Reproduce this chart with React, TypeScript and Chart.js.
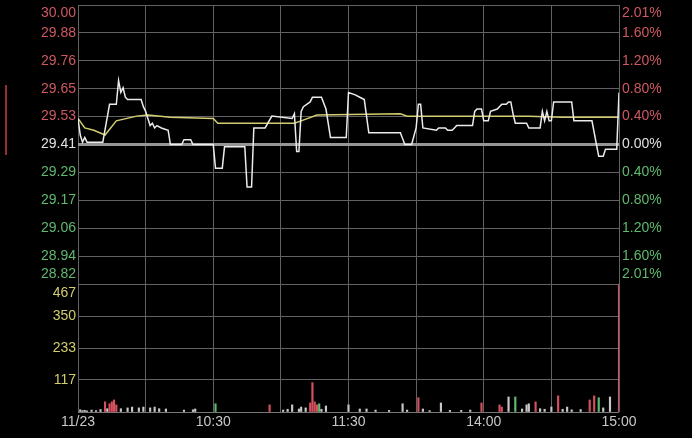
import { useEffect, useRef } from 'react';
import { Chart, registerables } from 'chart.js';

Chart.register(...registerables);

// ---------- data ----------
const prevClose = 29.41;

const priceTickValues = [30.0, 29.882, 29.764, 29.646, 29.528, 29.41, 29.292, 29.174, 29.056, 28.938, 28.82];
const priceTickLabels = ['30.00', '29.88', '29.76', '29.65', '29.53', '29.41', '29.29', '29.17', '29.06', '28.94', '28.82'];
const pctTickLabels = ['2.01%', '1.60%', '1.20%', '0.80%', '0.40%', '0.00%', '0.40%', '0.80%', '1.20%', '1.60%', '2.01%'];

const volTickValues = [0, 117, 233, 350, 467];
const volTickLabels = ['', '117', '233', '350', '467'];

const gridMinutes = [0, 30, 60, 90, 120, 150, 180, 210, 240];
const timeLabelMinutes = [0, 60, 120, 180, 240];
const timeLabels = ['11/23', '10:30', '11:30', '14:00', '15:00'];

const priceMinutes = [0, 1, 2, 3, 4, 11, 14, 17, 18, 19, 20, 21, 22, 28, 29, 30, 31, 32, 33, 34, 35, 37, 40, 41, 46, 47, 50, 51, 60, 61, 64, 65, 74, 75, 77, 78, 83, 86, 95, 96, 97, 98, 99, 100, 103, 104, 108, 110, 112, 119, 120, 123, 125, 127, 129, 143, 145, 148, 150, 151, 152, 153, 159, 160, 163, 164, 166, 167, 168, 175, 176, 177, 179, 180, 182, 183, 186, 188, 190, 191, 192, 193, 194, 199, 200, 205, 206, 207, 208, 209, 210, 211, 219, 220, 228, 230, 231, 233, 234, 239, 240];
const priceValues = [29.52, 29.45, 29.42, 29.44, 29.42, 29.42, 29.58, 29.58, 29.68, 29.63, 29.65, 29.61, 29.6, 29.6, 29.57, 29.55, 29.52, 29.49, 29.5, 29.48, 29.49, 29.48, 29.47, 29.41, 29.41, 29.43, 29.43, 29.41, 29.41, 29.31, 29.31, 29.4, 29.4, 29.23, 29.23, 29.48, 29.48, 29.53, 29.52, 29.54, 29.38, 29.38, 29.55, 29.57, 29.59, 29.61, 29.61, 29.56, 29.44, 29.44, 29.63, 29.62, 29.61, 29.6, 29.46, 29.46, 29.41, 29.41, 29.48, 29.58, 29.58, 29.48, 29.47, 29.48, 29.48, 29.47, 29.47, 29.48, 29.49, 29.49, 29.55, 29.56, 29.56, 29.51, 29.51, 29.55, 29.56, 29.58, 29.58, 29.59, 29.59, 29.54, 29.5, 29.5, 29.48, 29.48, 29.55, 29.51, 29.55, 29.51, 29.51, 29.59, 29.59, 29.51, 29.51, 29.41, 29.36, 29.36, 29.39, 29.39, 29.63];

const avgMinutes = [0, 3, 7, 12, 17, 26, 31, 41, 60, 62, 96, 99, 106, 143, 146, 200, 215, 240];
const avgValues = [29.52, 29.48, 29.47, 29.45, 29.51, 29.53, 29.535, 29.525, 29.52, 29.5, 29.5, 29.51, 29.535, 29.54, 29.53, 29.53, 29.525, 29.525];

const volMinutes = [1, 2, 3, 4, 6, 8, 10, 12, 13, 14, 15, 16, 17, 19, 22, 24, 27, 29, 32, 34, 36, 39, 47, 51, 52, 61, 85, 91, 93, 95, 98, 99, 101, 103, 104, 105, 106, 107, 108, 110, 120, 125, 128, 132, 138, 144, 146, 151, 153, 156, 161, 165, 170, 174, 179, 187, 188, 191, 194, 197, 199, 200, 203, 205, 207, 210, 213, 215, 217, 219, 223, 227, 229, 231, 233, 236, 240];
const volValues = [8, 5, 6, 4, 7, 5, 9, 37, 12, 30, 37, 44, 26, 12, 15, 18, 15, 18, 15, 18, 12, 11, 7, 8, 11, 30, 26, 7, 10, 26, 11, 18, 15, 33, 107, 37, 26, 30, 10, 22, 26, 11, 11, 7, 6, 30, 7, 52, 11, 5, 33, 6, 6, 7, 33, 26, 18, 55, 55, 11, 26, 30, 37, 12, 10, 18, 59, 10, 18, 8, 9, 44, 59, 52, 15, 55, 467];
const volDir = ['f', 'f', 'f', 'f', 'f', 'f', 'f', 'u', 'f', 'u', 'u', 'u', 'u', 'f', 'f', 'f', 'f', 'f', 'f', 'f', 'f', 'f', 'f', 'f', 'f', 'd', 'u', 'f', 'f', 'f', 'f', 'f', 'f', 'u', 'u', 'u', 'u', 'd', 'f', 'f', 'f', 'f', 'f', 'f', 'f', 'f', 'f', 'u', 'f', 'f', 'f', 'f', 'f', 'f', 'u', 'u', 'u', 'f', 'd', 'f', 'f', 'f', 'u', 'f', 'f', 'f', 'u', 'f', 'f', 'f', 'f', 'u', 'u', 'd', 'f', 'f', 'u'];

// ---------- styles ----------
const RED = 'rgb(205,88,98)';
const GREEN = 'rgb(95,185,110)';
const WHITE = 'rgb(225,225,225)';
const YELLOW = 'rgb(210,205,110)';
const GRID = 'rgb(98,98,98)';
const BASE = 'rgb(150,150,150)';
const FONT = '14px "Liberation Sans", Arial, sans-serif';
const dirColor: Record<string, string> = { u: 'rgb(215,80,95)', d: 'rgb(90,190,110)', f: 'rgb(200,200,200)' };

const W = 692;
const H = 438;

export default function App() {
  const priceRef = useRef<HTMLCanvasElement>(null);
  const volRef = useRef<HTMLCanvasElement>(null);

  useEffect(() => {
    document.body.style.margin = '0';
    document.body.style.background = '#000';

    const xScale = {
      type: 'linear' as const,
      min: 0,
      max: 240,
      offset: false,
      afterBuildTicks: (s: any) => {
        s.ticks = gridMinutes.map((v) => ({ value: v }));
      },
      ticks: { display: false },
      grid: { color: GRID, lineWidth: 1, drawTicks: false, offset: false },
      border: { display: false },
    };

    const priceLabels = {
      id: 'priceLabels',
      afterDraw(chart: any) {
        const { ctx, chartArea, scales } = chart;
        ctx.save();
        ctx.font = FONT;
        ctx.textBaseline = 'middle';
        priceTickValues.forEach((v, i) => {
          let y = scales.y.getPixelForValue(v);
          y = Math.min(Math.max(y, chartArea.top + 8), chartArea.bottom - 10);
          const diff = v - prevClose;
          ctx.fillStyle = diff > 1e-6 ? RED : diff < -1e-6 ? GREEN : WHITE;
          ctx.textAlign = 'right';
          ctx.fillText(priceTickLabels[i], chartArea.left - 2, y);
          ctx.textAlign = 'left';
          ctx.fillText(pctTickLabels[i], chartArea.right + 3, y);
        });
        ctx.restore();
      },
    };

    const volLabels = {
      id: 'volLabels',
      afterDraw(chart: any) {
        const { ctx, chartArea, scales } = chart;
        ctx.save();
        ctx.font = FONT;
        ctx.textBaseline = 'middle';
        ctx.fillStyle = YELLOW;
        ctx.textAlign = 'right';
        volTickValues.forEach((v, i) => {
          if (!volTickLabels[i]) return;
          let y = scales.y.getPixelForValue(v);
          y = Math.max(y, chartArea.top + 9);
          ctx.fillText(volTickLabels[i], chartArea.left - 2, y);
        });
        ctx.fillStyle = 'rgb(200,200,200)';
        ctx.textAlign = 'center';
        timeLabelMinutes.forEach((m, i) => {
          ctx.fillText(timeLabels[i], scales.x.getPixelForValue(m), chartArea.bottom + 10);
        });
        ctx.restore();
      },
    };

    const priceChart = new Chart(priceRef.current!, {
      type: 'line',
      data: {
        datasets: [
          {
            data: priceMinutes.map((m, i) => ({ x: m, y: priceValues[i] })),
            borderColor: 'rgb(235,235,235)',
            borderWidth: 1.5,
            pointRadius: 0,
            tension: 0,
          },
          {
            data: avgMinutes.map((m, i) => ({ x: m, y: avgValues[i] })),
            borderColor: YELLOW,
            borderWidth: 1.5,
            pointRadius: 0,
            tension: 0,
          },
        ],
      },
      options: {
        responsive: false,
        animation: false,
        events: [],
        layout: { padding: { left: 78, right: 73, top: 5, bottom: 6 } },
        plugins: { legend: { display: false }, tooltip: { enabled: false } },
        scales: {
          x: xScale as any,
          y: {
            type: 'linear',
            min: 28.82,
            max: 30.0,
            afterBuildTicks: (s: any) => {
              s.ticks = priceTickValues.map((v) => ({ value: v }));
            },
            ticks: { display: false },
            grid: {
              drawTicks: false,
              color: (c: any) => (c.tick && Math.abs(c.tick.value - prevClose) < 1e-6 ? BASE : GRID),
              lineWidth: (c: any) => (c.tick && Math.abs(c.tick.value - prevClose) < 1e-6 ? 3 : 1),
            },
            border: { display: false },
          },
        },
      },
      plugins: [priceLabels],
    });

    const volChart = new Chart(volRef.current!, {
      type: 'bar',
      data: {
        datasets: [
          {
            data: volMinutes.map((m, i) => ({ x: m, y: volValues[i] })) as any,
            backgroundColor: volDir.map((d) => dirColor[d]),
            borderWidth: 0,
            barThickness: 1.5,
          },
        ],
      },
      options: {
        responsive: false,
        animation: false,
        events: [],
        layout: { padding: { left: 78, right: 73, top: 4, bottom: 26 } },
        plugins: { legend: { display: false }, tooltip: { enabled: false } },
        scales: {
          x: xScale as any,
          y: {
            type: 'linear',
            min: 0,
            max: 467,
            afterBuildTicks: (s: any) => {
              s.ticks = volTickValues.map((v) => ({ value: v }));
            },
            ticks: { display: false },
            grid: { drawTicks: false, color: (c: any) => (c.tick && c.tick.value === 0 ? 'rgb(120,120,120)' : GRID), lineWidth: 1 },
            border: { display: false },
          },
        },
      },
      plugins: [volLabels],
    });

    return () => {
      priceChart.destroy();
      volChart.destroy();
    };
  }, []);

  return (
    <div style={{ position: 'fixed', left: 0, top: 0, width: W, height: H, background: '#000', overflow: 'hidden' }}>
      <div style={{ position: 'absolute', left: 5, top: 85, width: 2, height: 70, background: 'rgb(150,45,55)' }} />
      <canvas ref={priceRef} width={W} height={290} style={{ position: 'absolute', left: 0, top: 0, width: W, height: 290 }} />
      <canvas ref={volRef} width={W} height={158} style={{ position: 'absolute', left: 0, top: 280, width: W, height: 158 }} />
    </div>
  );
}
